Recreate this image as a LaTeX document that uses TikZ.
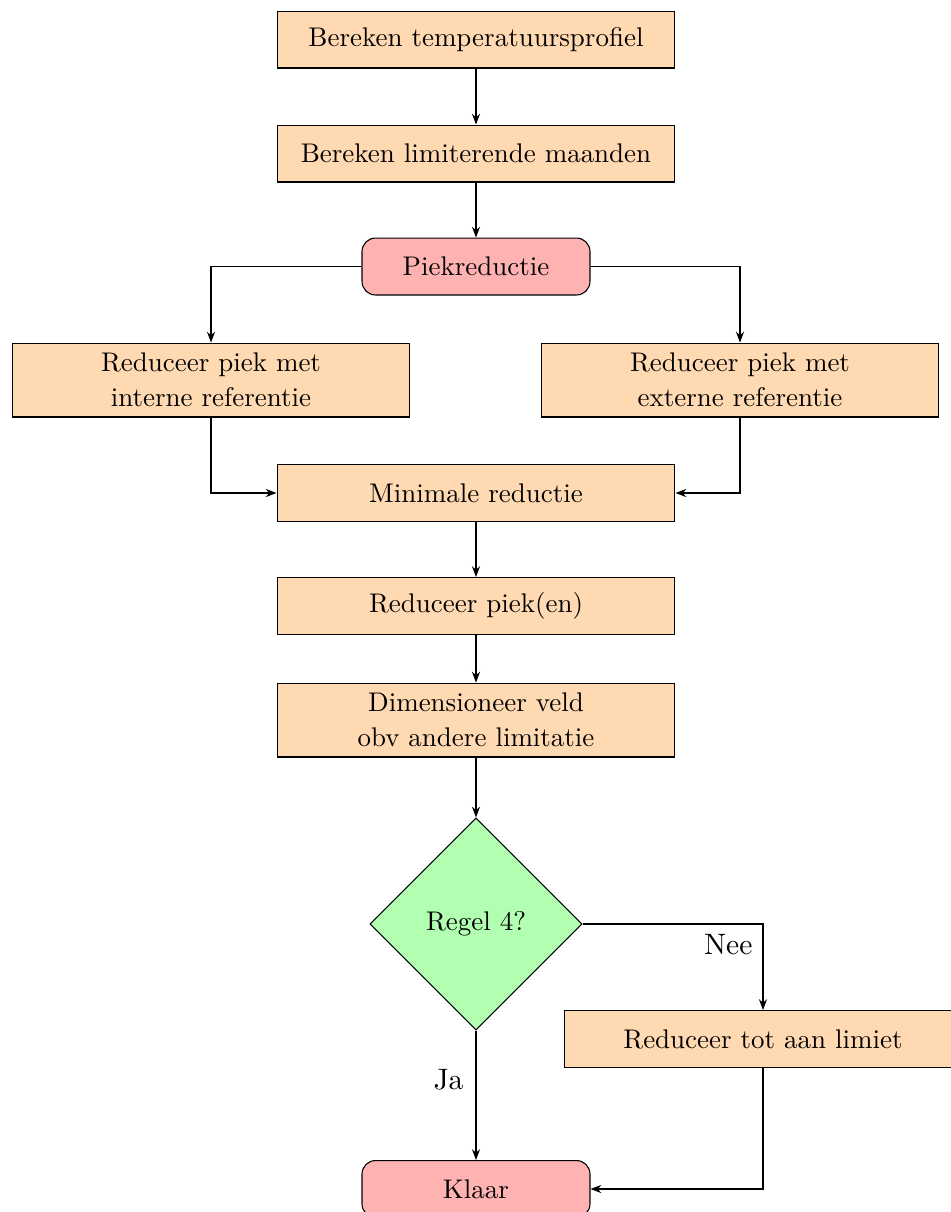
\documentclass[tikz,border=0pt]{standalone}
\usetikzlibrary{shapes.geometric,arrows.meta}
\begin{document}
\begin{tikzpicture}[x=0.3707pt,y=-0.3707pt,
  procbox/.style={draw, fill=orange!30, minimum width=147.5pt, minimum height=21.1pt, align=center, line width=0.4pt},
  twoline/.style={procbox, minimum height=27.4pt, font=\fontsize{10}{13}\selectfont},
  termbox/.style={draw, fill=red!30, rounded corners=5pt, minimum width=84.5pt, minimum height=21.1pt, line width=0.4pt},
  decide/.style={draw, diamond, fill=green!30, minimum width=78.6pt, minimum height=78.6pt, inner sep=0pt, line width=0.4pt},
  conn/.style={-{Stealth[length=4pt,width=3pt]}, line width=0.4pt},
  lbl/.style={inner sep=0pt, font=\fontsize{10.95}{13}\selectfont}]
\useasboundingbox (0,0) rectangle (950,1212);

\node[procbox] (prof) at (476,39.5) {Bereken temperatuursprofiel};
\node[procbox] (maand) at (476,153.5) {Bereken limiterende maanden};
\node[termbox] (piek) at (476,266.5) {Piekreductie};
\node[twoline] (intern) at (211,380) {Reduceer piek met\\interne referentie};
\node[twoline] (extern) at (740,380) {Reduceer piek met\\externe referentie};
\node[procbox] (minred) at (476,493) {Minimale reductie};
\node[procbox] (redpiek) at (476,606) {Reduceer piek(en)};
\node[twoline] (dimveld) at (476,720) {Dimensioneer veld\\obv andere limitatie};
\node[decide] (regel) at (476,924) {Regel 4?};
\node[procbox] (limiet) at (763,1039) {Reduceer tot aan limiet};
\node[termbox] (klaar) at (476,1189) {Klaar};

\draw[conn] (prof) -- (maand);
\draw[conn] (maand) -- (piek);
\draw[conn] (piek.west) -| (intern.north);
\draw[conn] (piek.east) -| (extern.north);
\draw[conn] (intern.south) |- (minred.west);
\draw[conn] (extern.south) |- (minred.east);
\draw[conn] (minred) -- (redpiek);
\draw[conn] (redpiek) -- (dimveld);
\draw[conn] (dimveld) -- (regel);
\draw[conn] (regel.east) -| (limiet.north);
\draw[conn] (regel.south) -- (klaar.north);
\draw[conn] (limiet.south) |- (klaar.east);

\node[lbl, anchor=east] (nee) at (753,945) {Nee};
\node[lbl, anchor=east] (ja) at (464,1080) {Ja};
\end{tikzpicture}
\end{document}
